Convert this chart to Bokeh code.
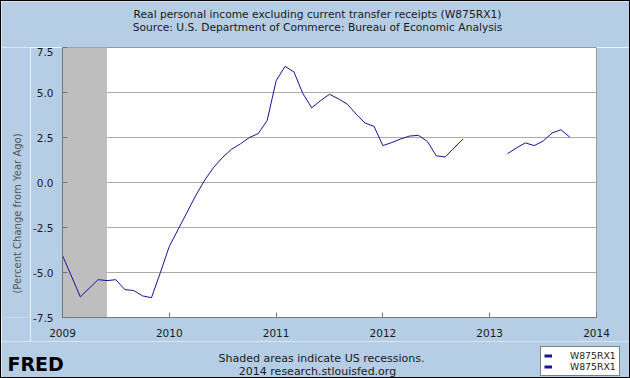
import numpy as np
import pandas as pd
from bokeh.plotting import figure
from bokeh.layouts import column, row
from bokeh.models import (Range1d, FixedTicker, PrintfTickFormatter, BoxAnnotation,
                          Label, Legend, LegendItem)
from bokeh.embed import file_html
from bokeh.resources import INLINE

# ---------------- data ----------------
title_line1 = "Real personal income excluding current transfer receipts (W875RX1)"
title_line2 = "Source: U.S. Department of Commerce: Bureau of Economic Analysis"
y_label = "(Percent Change from Year Ago)"
footer1 = "Shaded areas indicate US recessions."
footer2 = "2014 research.stlouisfed.org"
logo_text = "FRED"
series_name = "W875RX1"

x_ticks = [2009, 2010, 2011, 2012, 2013, 2014]
y_ticks = [-7.5, -5.0, -2.5, 0.0, 2.5, 5.0, 7.5]

recession_start = "2009-01"
recession_end = "2009-06"

months_1 = pd.period_range("2009-01", "2012-10", freq="M")
values_1 = [
    # 2009
    -4.05, -5.2, -6.35, -5.88, -5.4, -5.45, -5.4, -5.95, -6.0, -6.3, -6.4, -5.0,
    # 2010
    -3.55, -2.6, -1.65, -0.7, 0.15, 0.85, 1.4, 1.85, 2.15, 2.5, 2.72, 3.45,
    # 2011
    5.65, 6.45, 6.15, 4.95, 4.15, 4.55, 4.9, 4.65, 4.35, 3.8, 3.3, 3.12,
    # 2012
    2.05, 2.22, 2.42, 2.58, 2.62, 2.28, 1.48, 1.42, 1.92, 2.42,
]
months_2 = pd.period_range("2013-03", "2013-10", freq="M")
values_2 = [1.6, 1.92, 2.2, 2.05, 2.3, 2.75, 2.93, 2.52]


def to_year(periods):
    return [p.year + (p.month - 1) / 12.0 for p in periods]


x1 = to_year(months_1)
x2 = to_year(months_2)
rec = to_year(pd.PeriodIndex([recession_start, recession_end], freq="M"))

BG = "#B5CDE5"
LINE = "#14149A"
FONT = "DejaVu Sans"
TXT = "#1a1a1a"

# page layout (1px black border, content 628 x 376)
W = 628          # page x 1..629
TOP_H = 46       # page y 1..47
MID_H = 294      # page y 47..341
BOT_H = 36       # page y 341..377
STRIP_W = 29     # page x 1..30


def strip(width, height):
    f = figure(width=width, height=height, x_range=Range1d(0, 1), y_range=Range1d(0, 1),
               output_backend="svg", toolbar_location=None, title=None,
               x_axis_location=None, y_axis_location=None,
               min_border=0, min_border_left=0, min_border_right=0,
               min_border_top=0, min_border_bottom=0,
               background_fill_color=BG, border_fill_color=BG, outline_line_color=None)
    f.grid.visible = False
    return f


def lab(fig, text, sx, sy, size="10px", color=TXT, align="center", angle=0.0, style="normal"):
    fig.add_layout(Label(x=sx, y=sy, x_units="screen", y_units="screen", text=text,
                         text_align=align, text_baseline="middle", angle=angle,
                         text_font=FONT, text_font_size=size, text_color=color,
                         text_font_style=style))


# ---------------- top strip (titles) ----------------
top = strip(W, TOP_H)
lab(top, title_line1, 317 - 1, 47 - 13.5, size="10.7px")
lab(top, title_line2, 317 - 1, 47 - 27, size="10.7px")

# ---------------- left strip (y label) ----------------
left = strip(STRIP_W, MID_H)
lab(left, y_label, 17 - 1, 104, color="#555555", angle=np.pi / 2)

# ---------------- main chart ----------------
p = figure(width=W - STRIP_W, height=MID_H,
           x_range=Range1d(2009, 2014.0001), y_range=Range1d(-7.5, 7.5),
           output_backend="svg", toolbar_location=None, title=None,
           min_border_left=32, min_border_right=33, min_border_top=0, min_border_bottom=24,
           background_fill_color="white", border_fill_color=BG,
           outline_line_color="#999999")

p.add_layout(BoxAnnotation(left=rec[0], right=rec[1], fill_color="#BEBEBE", fill_alpha=1.0,
                           line_color=None, level="underlay"))

r1 = p.line(x1, values_1, line_color=LINE, line_width=1)
r2 = p.line(x2, values_2, line_color=LINE, line_width=1)

p.xgrid.visible = False
p.ygrid.grid_line_color = "#AAAAAA"
p.yaxis.ticker = FixedTicker(ticks=y_ticks)
p.yaxis.formatter = PrintfTickFormatter(format="%.1f")
p.xaxis.ticker = FixedTicker(ticks=x_ticks)
p.xaxis.formatter = PrintfTickFormatter(format="%d")
for ax in (p.xaxis, p.yaxis):
    ax.major_tick_in = 5
    ax.major_tick_out = 0
    ax.minor_tick_line_color = None
    ax.axis_line_color = "#777777"
    ax.major_tick_line_color = "#777777"
    ax.major_label_text_font = FONT
    ax.major_label_text_font_size = "10.5px"
    ax.major_label_text_color = TXT
p.yaxis.major_label_standoff = 9
p.xaxis.major_label_standoff = 11

# ---------------- bottom strip (footer, logo, legend) ----------------
bot = strip(W, BOT_H)
lab(bot, footer1, 321 - 1, 377 - 358, size="11px")
lab(bot, footer2, 317 - 1, 377 - 371, size="11px")
lab(bot, logo_text, 6, 377 - 363, size="19px", color="black", align="left", style="bold")

# legend proxies: same series, drawn in the strip but outside its visible range
g1 = bot.line(x1, values_1, line_color=LINE, line_width=3)
g2 = bot.line(x2, values_2, line_color=LINE, line_width=3)
legend = Legend(items=[LegendItem(label=series_name, renderers=[g1]),
                       LegendItem(label=series_name, renderers=[g2])],
                location=(539, 1), orientation="vertical",
                label_text_font=FONT, label_text_font_size="9.3px", label_text_color="#222222",
                label_height=9, glyph_height=9, glyph_width=8, label_standoff=18,
                spacing=0, padding=3, margin=0,
                border_line_color="black", border_line_width=1,
                background_fill_color="white", background_fill_alpha=1.0)
bot.add_layout(legend)

layout = column(top, row(left, p), bot)
layout.styles = {"border": "1px solid black"}

html = file_html(layout, INLINE, title="W875RX1")
with open("out.html", "w") as f:
    f.write(html)
